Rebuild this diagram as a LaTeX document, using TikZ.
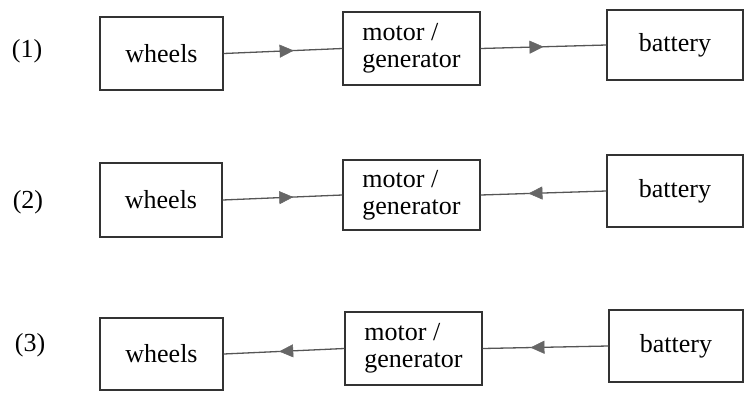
\documentclass[tikz,border=0pt]{standalone}
\usepackage{fontspec}
\setmainfont{Liberation Serif}
\usetikzlibrary{arrows.meta,decorations.markings}
\definecolor{boxline}{HTML}{333333}
\definecolor{wire}{HTML}{555555}
\definecolor{tip}{HTML}{666666}
\tikzset{
  unit/.style={draw=boxline, line width=1.3pt, align=left, inner sep=0pt,
    font=\fontsize{26}{27}\selectfont},
  rowlabel/.style={font=\fontsize{26}{27}\selectfont, inner sep=0pt},
  flow/.style={draw=wire, line width=1.3pt, postaction={decorate},
    decoration={markings, mark=at position #1 with
      {\arrow[tip, line width=0.5pt]{Triangle[length=14pt,width=13pt]}}}}
}
\begin{document}
\begin{tikzpicture}[x=1pt,y=-1pt]
\useasboundingbox (0,0) rectangle (745,392);

% row (1): wheels drive the generator, which charges the battery
\node[rowlabel] (l1) at (27,51) {(1)};
\node[unit, minimum width=123pt, minimum height=73pt] (w1) at (161.5,53.5) {wheels};
\node[unit, minimum width=137pt, minimum height=73pt] (m1) at (411.5,48.5) {motor /\\generator};
\node[unit, minimum width=136pt, minimum height=70pt] (b1) at (675,45) {battery};
\draw[flow=0.59] (w1.east) -- (m1.west);
\draw[flow=0.5] (m1.east) -- (b1.west);

% row (2)
\node[rowlabel] (l2) at (28,202) {(2)};
\node[unit, minimum width=122pt, minimum height=74pt] (w2) at (161,200) {wheels};
\node[unit, minimum width=137pt, minimum height=70pt] (m2) at (411.5,195) {motor /\\generator};
\node[unit, minimum width=136pt, minimum height=72pt] (b2) at (675,191) {battery};
\draw[flow=0.59] (w2.east) -- (m2.west);
\draw[flow=0.62] (b2.west) -- (m2.east);

% row (3): battery drives the motor, which turns the wheels
\node[rowlabel] (l3) at (30,345) {(3)};
\node[unit, minimum width=123pt, minimum height=72pt] (w3) at (161.5,354) {wheels};
\node[unit, minimum width=137pt, minimum height=73pt] (m3) at (413.5,348.5) {motor /\\generator};
\node[unit, minimum width=134pt, minimum height=72pt] (b3) at (676,346) {battery};
\draw[flow=0.54] (m3.west) -- (w3.east);
\draw[flow=0.62] (b3.west) -- (m3.east);
\end{tikzpicture}
\end{document}
